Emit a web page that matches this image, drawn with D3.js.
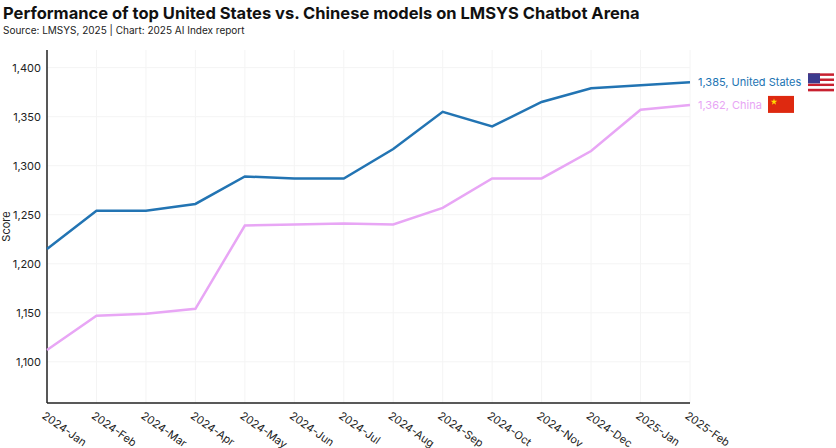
<!DOCTYPE html>
<html><head><meta charset="utf-8">
<script src="https://cdn.jsdelivr.net/npm/d3@7"></script>
<style>body{margin:0;background:#fff;font-family:Inter,"Noto Sans",sans-serif}</style>
</head><body><div id="chart"></div>
<script>
const months = ["2024-Jan","2024-Feb","2024-Mar","2024-Apr","2024-May","2024-Jun","2024-Jul","2024-Aug","2024-Sep","2024-Oct","2024-Nov","2024-Dec","2025-Jan","2025-Feb"];
const usScores = [1215,1254,1254,1261,1289,1287,1287,1317,1355,1340,1365,1379,1382,1385];
const cnScores = [1112,1147,1149,1154,1239,1240,1241,1240,1257,1287,1287,1315,1357,1362];
const yTicks = [1100,1150,1200,1250,1300,1350,1400];

const W = 836, H = 448;
const margin = {left: 47, right: 146, top: 50, bottom: 45};
const svg = d3.select("#chart").append("svg").attr("width", W).attr("height", H);

svg.append("text").attr("x", 3).attr("y", 19).attr("font-size", 16.5).attr("font-weight", 700)
  .attr("fill", "#111").text("Performance of top United States vs. Chinese models on LMSYS Chatbot Arena");
svg.append("text").attr("x", 3).attr("y", 34).attr("font-size", 10).attr("fill", "#222")
  .text("Source: LMSYS, 2025 | Chart: 2025 AI Index report");

const x = d3.scalePoint().domain(months).range([margin.left, W - margin.right]);
const y = d3.scaleLinear().domain([1058, 1418]).range([H - margin.bottom, margin.top]);

// gridlines
svg.append("g").selectAll("line").data(months).join("line")
  .attr("x1", d => x(d)).attr("x2", d => x(d)).attr("y1", y(1418)).attr("y2", y(1058))
  .attr("stroke", "#f4f4f4");
svg.append("g").selectAll("line").data(yTicks).join("line")
  .attr("x1", margin.left).attr("x2", W - margin.right).attr("y1", d => y(d)).attr("y2", d => y(d))
  .attr("stroke", "#f4f4f4");

const yAxis = svg.append("g").attr("transform", `translate(${margin.left},0)`)
  .call(d3.axisLeft(y).tickValues(yTicks).tickSize(0).tickPadding(6).tickFormat(d3.format(",")));
yAxis.select(".domain").remove();
yAxis.selectAll("text").attr("font-size", 11).attr("fill", "#222").attr("font-family", "Inter,sans-serif");

const xAxis = svg.append("g").attr("transform", `translate(0,${y(1058)})`)
  .call(d3.axisBottom(x).tickSize(0).tickPadding(0));
xAxis.select(".domain").remove();
xAxis.selectAll("text").attr("font-size", 11).attr("fill", "#222").attr("font-family", "Inter,sans-serif")
  .attr("text-anchor", "start").attr("transform", "translate(-3,10) rotate(35)").attr("dy", "0.5em");

svg.append("line").attr("x1", margin.left).attr("x2", margin.left).attr("y1", y(1418)).attr("y2", y(1058))
  .attr("stroke", "#222").attr("stroke-width", 1.5);
svg.append("line").attr("x1", margin.left).attr("x2", W - margin.right).attr("y1", y(1058)).attr("y2", y(1058))
  .attr("stroke", "#222").attr("stroke-width", 1.5);

svg.append("text").attr("transform", `translate(10,${(y(1058)+y(1418))/2}) rotate(-90)`)
  .attr("text-anchor", "middle").attr("font-size", 11).attr("fill", "#222").text("Score");

const line = d3.line().x((d, i) => x(months[i])).y(d => y(d));
const series = [
  {name: "United States", values: usScores, color: "#2274b3"},
  {name: "China", values: cnScores, color: "#e8a6f5"}
];
series.forEach(s => {
  svg.append("path").datum(s.values).attr("d", line).attr("fill", "none")
    .attr("stroke", s.color).attr("stroke-width", 2.5);
  const last = s.values[s.values.length - 1];
  svg.append("text").attr("x", x(months[months.length - 1]) + 8).attr("y", y(last)).attr("dy", "0.35em")
    .attr("font-size", 11).attr("fill", s.color).text(`${d3.format(",")(last)}, ${s.name}`);
});

// flags
const usY = y(usScores[usScores.length - 1]);
const us = svg.append("g").attr("transform", `translate(808,${usY - 9})`);
d3.range(7).forEach(i => us.append("rect").attr("x", 0).attr("y", i * 18 / 7).attr("width", 26).attr("height", 18 / 7)
  .attr("fill", i % 2 ? "#fff" : "#c8202f"));
us.append("rect").attr("width", 12).attr("height", 10).attr("fill", "#3c3b8e");
const cnY = y(cnScores[cnScores.length - 1]);
const cn = svg.append("g").attr("transform", `translate(768,${cnY - 9})`);
cn.append("rect").attr("width", 26).attr("height", 17).attr("fill", "#de2910");
cn.append("path").attr("d", d3.symbol(d3.symbolStar, 14)()).attr("transform", "translate(6,6)").attr("fill", "#ffde00");
</script></body></html>
